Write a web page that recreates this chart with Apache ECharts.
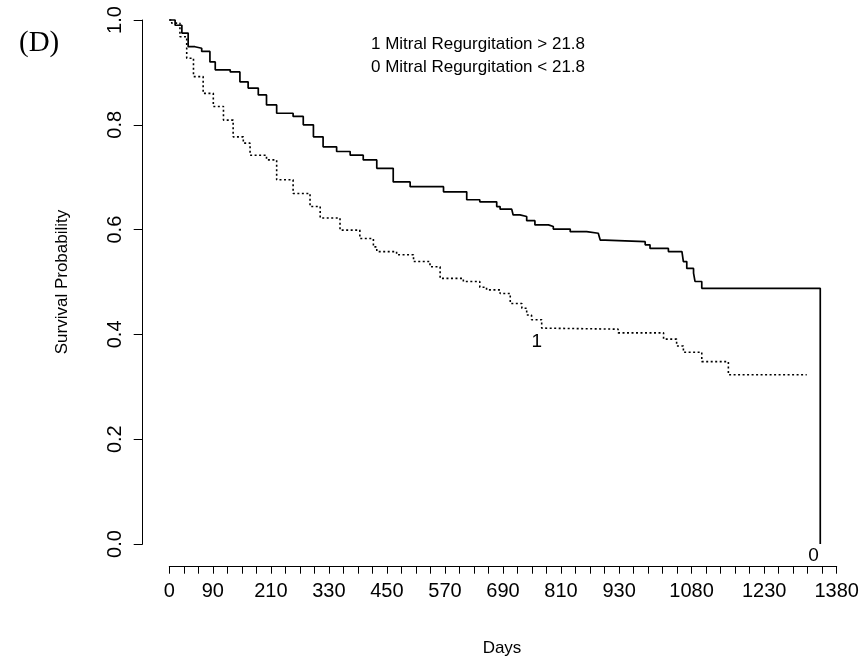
<!DOCTYPE html>
<html><head><meta charset="utf-8">
<script src="https://cdn.jsdelivr.net/npm/echarts@6/dist/echarts.min.js"></script>
<style>html,body{margin:0;padding:0;background:#fff}#c{width:862px;height:664px}</style>
</head><body><div id="c"></div>
<script>
// Group 0: Mitral Regurgitation < 21.8 (solid)
const days0 = [0, 12, 26, 39, 53, 67, 84, 95, 126, 146, 163, 184, 201, 222, 256, 277, 298, 318, 346, 374, 401, 429, 463, 498, 567, 615, 642, 677, 684, 708, 711, 725, 739, 756, 784, 794, 829, 863, 887, 891, 901, 984, 994, 1032, 1060, 1063, 1070, 1084, 1087, 1101, 1346];
const surv0 = [1.000, 0.990, 0.975, 0.949, 0.946, 0.940, 0.920, 0.905, 0.901, 0.882, 0.870, 0.857, 0.838, 0.822, 0.816, 0.800, 0.777, 0.758, 0.749, 0.742, 0.733, 0.717, 0.691, 0.682, 0.672, 0.657, 0.653, 0.644, 0.639, 0.637, 0.628, 0.625, 0.617, 0.609, 0.606, 0.601, 0.596, 0.593, 0.590, 0.580, 0.577, 0.571, 0.564, 0.558, 0.555, 0.539, 0.526, 0.517, 0.501, 0.488, 0];
// Group 1: Mitral Regurgitation > 21.8 (dotted)
const days1 = [0, 5, 22, 36, 50, 70, 91, 112, 132, 153, 167, 201, 222, 256, 291, 312, 353, 394, 422, 429, 470, 505, 539, 560, 608, 642, 656, 684, 705, 729, 739, 749, 770, 773, 928, 1022, 1049, 1063, 1101, 1156, 1318];
const surv1 = [1.000, 0.994, 0.968, 0.927, 0.892, 0.860, 0.835, 0.809, 0.777, 0.765, 0.742, 0.733, 0.695, 0.669, 0.644, 0.622, 0.599, 0.583, 0.567, 0.558, 0.552, 0.539, 0.529, 0.507, 0.501, 0.490, 0.485, 0.478, 0.459, 0.450, 0.437, 0.428, 0.412, 0.410, 0.403, 0.391, 0.378, 0.366, 0.348, 0.323, 0.323];
// Axis tick labels
const xTickLabels = [0, 90, 210, 330, 450, 570, 690, 810, 930, 1080, 1230, 1380];
const legendLines = ['1 Mitral Regurgitation > 21.8', '0 Mitral Regurgitation < 21.8'];
// Curve labels: [text, day, survival]
const curveLabels = [['1', 760, 0.386], ['0', 1332, -0.023]];

const zip = (a, b) => a.map((v, i) => [v, b[i]]);
const FONT = '"Liberation Sans", Arial, sans-serif';

const chart = echarts.init(document.getElementById('c'), null, {renderer: 'canvas'});
chart.setOption({
  animation: false,
  backgroundColor: '#fff',
  grid: {left: 169.3, top: 20, width: 667.4, height: 524, outerBoundsMode: 'none'},
  xAxis: {
    type: 'value', min: 0, max: 1380, interval: 30, offset: 22.7,
    splitLine: {show: false},
    axisLine: {onZero: false, lineStyle: {color: '#000', width: 1}},
    axisTick: {length: 7, lineStyle: {color: '#000', width: 1}},
    axisLabel: {
      formatter: v => xTickLabels.includes(Math.round(v)) ? String(Math.round(v)) : '',
      fontSize: 20, color: '#000', fontFamily: FONT, margin: 15,
      showMinLabel: true, showMaxLabel: true, hideOverlap: false
    }
  },
  yAxis: {
    type: 'value', min: 0, max: 1, interval: 0.2, offset: 26.6,
    splitLine: {show: false},
    axisLine: {onZero: false, lineStyle: {color: '#000', width: 1}},
    axisTick: {length: 9, lineStyle: {color: '#000', width: 1}},
    axisLabel: {
      rotate: 90, formatter: v => v.toFixed(1),
      fontSize: 20, color: '#000', fontFamily: FONT, margin: 17
    }
  },
  series: [
    {type: 'line', step: 'end', data: zip(days0, surv0), showSymbol: false, clip: false,
     lineStyle: {color: '#000', width: 1.7, type: 'solid'}},
    {type: 'line', step: 'end', data: zip(days1, surv1), showSymbol: false, clip: false,
     lineStyle: {color: '#000', width: 1.6, type: [2, 2.5]}}
  ]
});

const graphics = [
  {type: 'text', x: 19, y: 43, style: {text: '(D)', font: '29px "Liberation Serif", "Times New Roman", serif', fill: '#000', textVerticalAlign: 'middle'}},
  {type: 'text', x: 478, y: 44, style: {text: legendLines[0], font: '17px ' + FONT, fill: '#000', textAlign: 'center', textVerticalAlign: 'middle'}},
  {type: 'text', x: 478, y: 67, style: {text: legendLines[1], font: '17px ' + FONT, fill: '#000', textAlign: 'center', textVerticalAlign: 'middle'}},
  {type: 'text', x: 62, y: 282, rotation: Math.PI / 2, style: {text: 'Survival Probability', font: '17px ' + FONT, fill: '#000', textAlign: 'center', textVerticalAlign: 'middle'}},
  {type: 'text', x: 502, y: 648, style: {text: 'Days', font: '17px ' + FONT, fill: '#000', textAlign: 'center', textVerticalAlign: 'middle'}}
];
curveLabels.forEach(([t, d, s]) => {
  const p = chart.convertToPixel({gridIndex: 0}, [d, s]);
  graphics.push({type: 'text', x: p[0], y: p[1], style: {text: t, font: '19px ' + FONT, fill: '#000', textAlign: 'center', textVerticalAlign: 'middle'}});
});
chart.setOption({graphic: graphics});
</script>
</body></html>
